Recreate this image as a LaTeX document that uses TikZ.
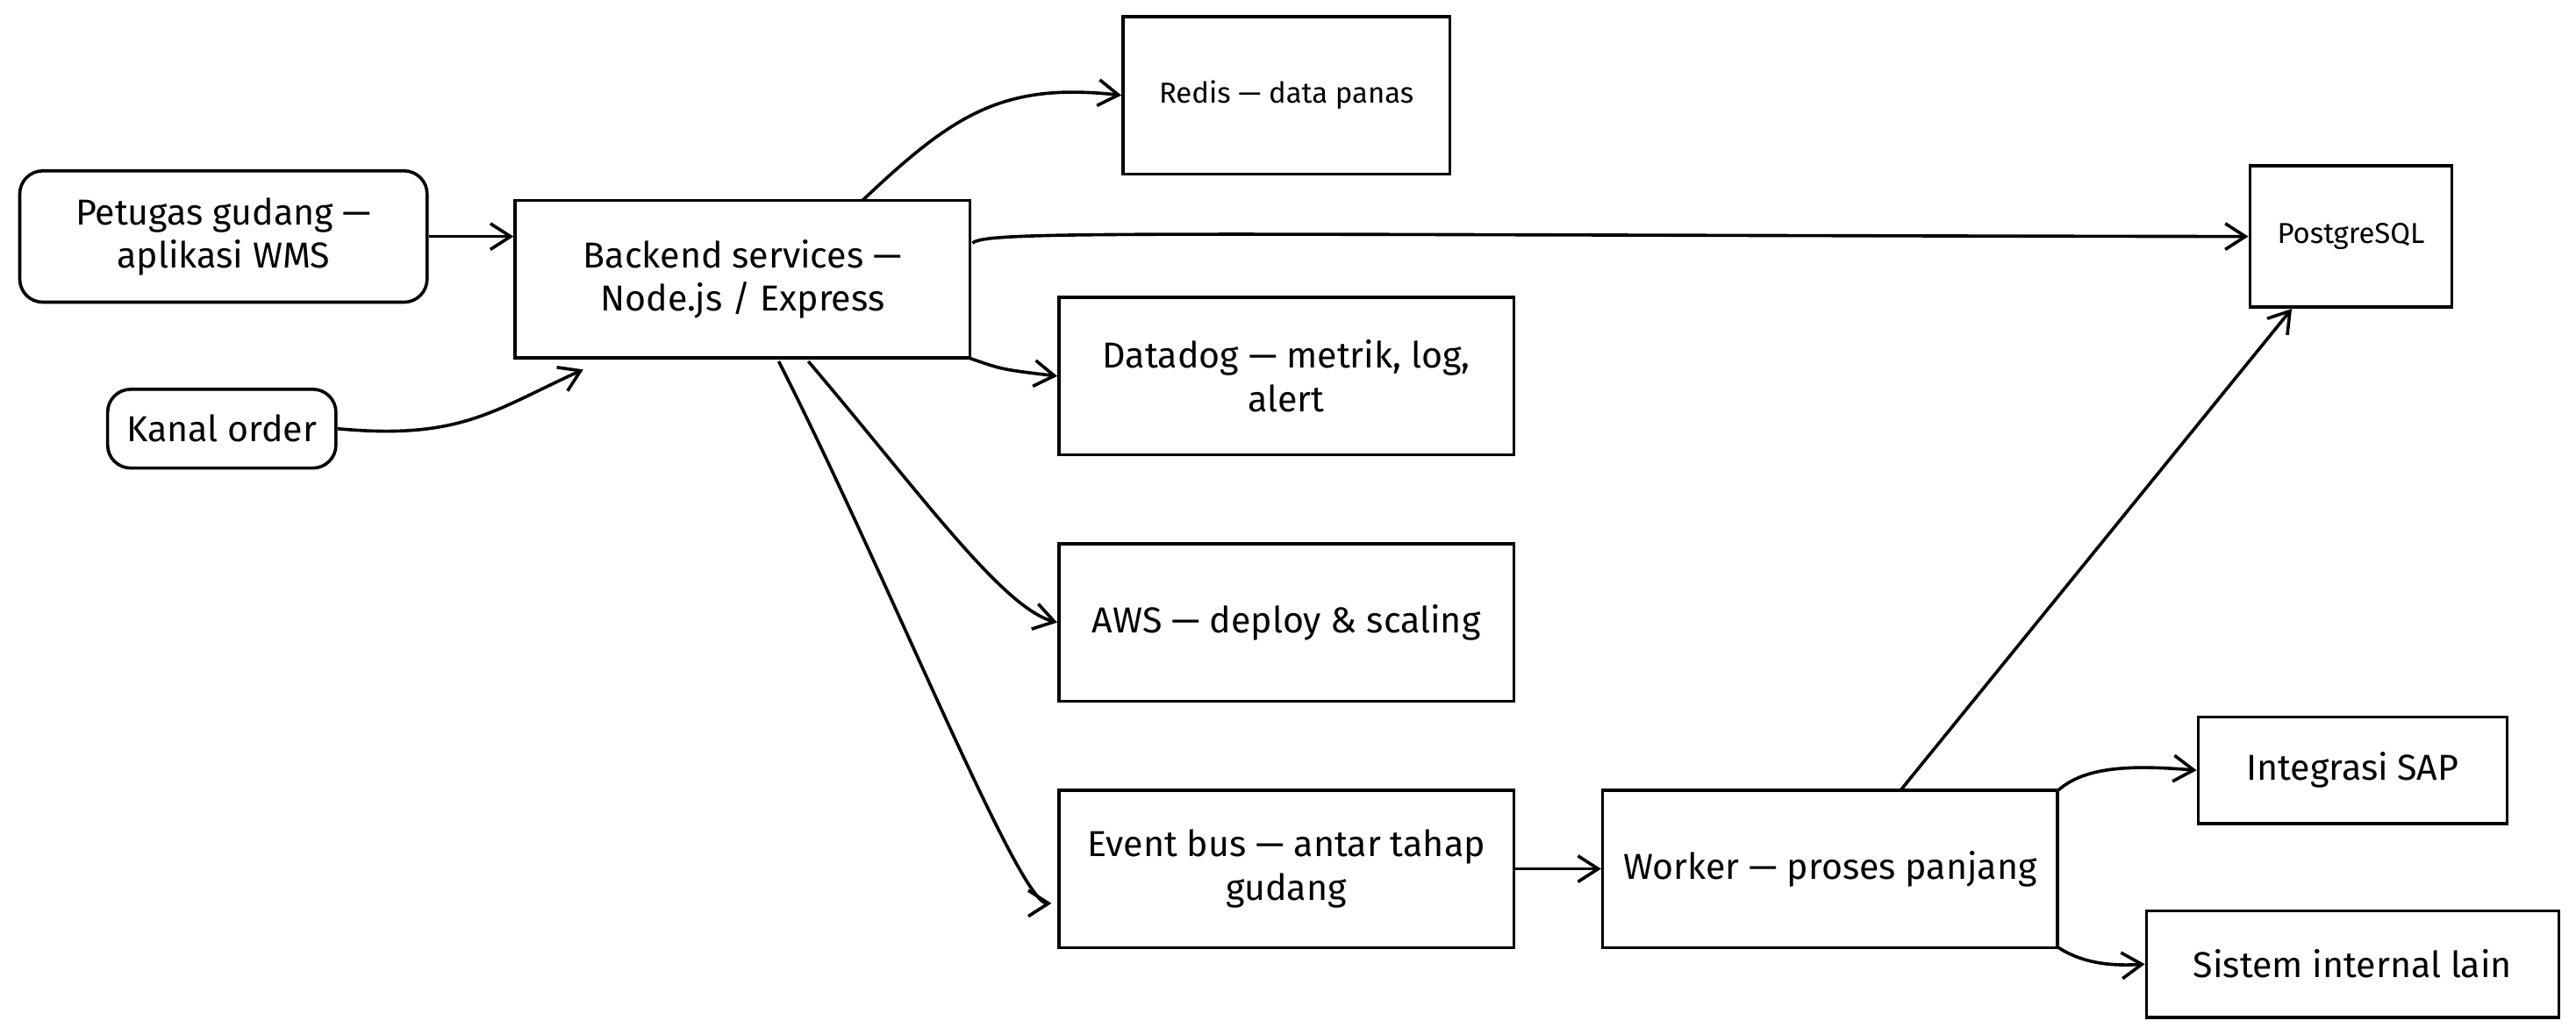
\documentclass[tikz,border=0pt]{standalone}
\usepackage{fontspec}
\setmainfont{Fira Sans}
\usetikzlibrary{arrows.meta}
\begin{document}
\begin{tikzpicture}
[
x=0.02cm, y=-0.02cm,
every node/.style={draw, line width=1.1pt, align=center, font=\fontsize{12.5}{15}\selectfont, inner sep=2pt},
rbox/.style={rounded corners=8pt},
link/.style={line width=1.1pt, -{Straight Barb[length=7pt, width=9pt]}}
]
\useasboundingbox (0,0) rectangle (1568,630);

% actors
\node[rbox, minimum width=4.96cm, minimum height=1.6cm] (petugas) at (136,144) {Petugas gudang —\\aplikasi WMS};
\node[rbox, minimum width=2.78cm, minimum height=0.96cm] (kanal) at (135,261) {Kanal order};

% services
\node[minimum width=5.54cm, minimum height=1.92cm] (backend) at (452,170) {Backend services —\\Node.js / Express};
\node[minimum width=3.98cm, minimum height=1.92cm, font=\fontsize{10}{12}\selectfont] (redis) at (783,58) {Redis — data panas};
\node[minimum width=2.46cm, minimum height=1.72cm, font=\fontsize{10}{12}\selectfont] (pg) at (1431,144) {PostgreSQL};
\node[minimum width=5.54cm, minimum height=1.92cm] (datadog) at (783,229) {Datadog — metrik, log,\\alert};
\node[minimum width=5.54cm, minimum height=1.92cm] (aws) at (783,379) {AWS — deploy \& scaling};
\node[minimum width=5.54cm, minimum height=1.92cm] (bus) at (783,529) {Event bus — antar tahap\\gudang};
\node[minimum width=5.54cm, minimum height=1.92cm] (worker) at (1114,529) {Worker — proses panjang};
\node[minimum width=3.76cm, minimum height=1.3cm] (sap) at (1432,469) {Integrasi SAP};
\node[minimum width=5.02cm, minimum height=1.3cm] (lain) at (1432,587) {Sistem internal lain};

% connectors
\draw[link] (petugas.east) -- (backend.west |- petugas.east);
\draw[link] (kanal.east) .. controls (280,268) and (300,250) .. (355,225);
\draw[link] (525,122) .. controls (580,70) and (610,50) .. (redis.west);
\draw[link] (592,148) .. controls (600,140) and (700,143) .. (pg.west);
\draw[link] (590,218) .. controls (610,225) .. (datadog.west);
\draw[link] (492,220) .. controls (560,300) and (610,370) .. (aws.west);
\draw[link] (474,220) .. controls (540,350) and (620,550) .. (640,550);
\draw[link] (bus.east) -- (worker.west);
\draw[link] (1157,481) -- (1395,188);
\draw[link] (1253,481) .. controls (1270,466) and (1300,466) .. (sap.west);
\draw[link] (1253,577) .. controls (1270,588) and (1290,588) .. (lain.west);
\end{tikzpicture}
\end{document}
